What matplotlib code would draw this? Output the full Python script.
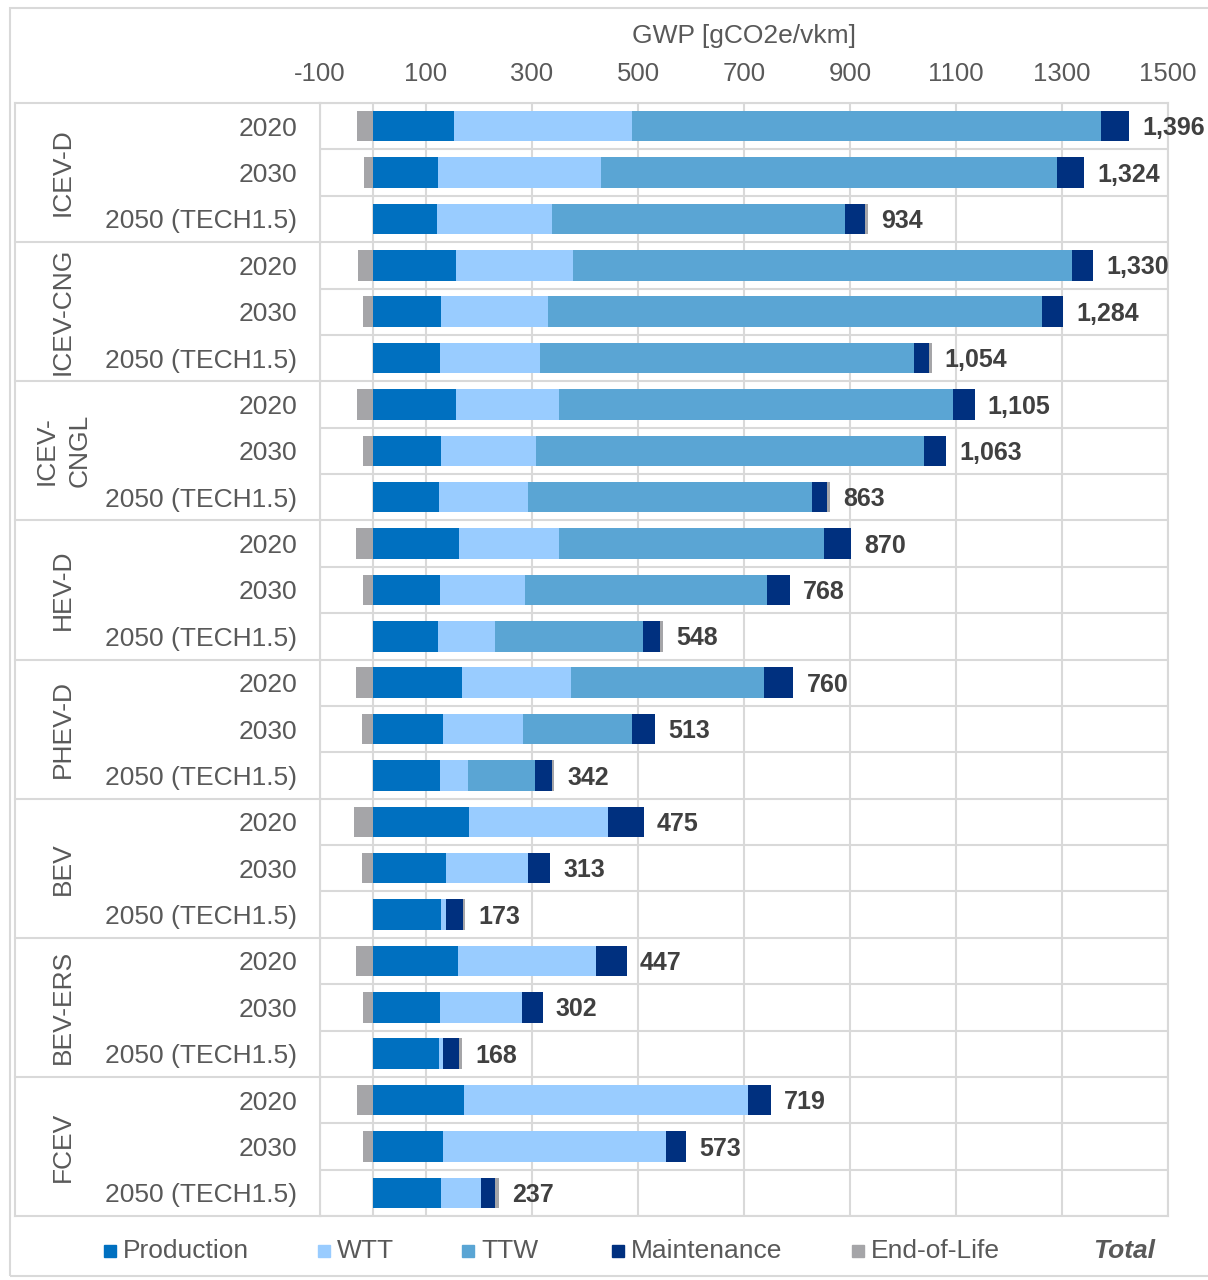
import matplotlib
matplotlib.use('Agg')
import matplotlib.pyplot as plt
import matplotlib.transforms as mtransforms
from matplotlib.patches import Rectangle
from matplotlib.lines import Line2D
import numpy as np

plt.rcParams['font.family'] = ['Liberation Sans', 'DejaVu Sans']
plt.rcParams['axes.unicode_minus'] = False

# data, rows top to bottom: 8 vehicle types x 3 years
groups = ['ICEV-D', 'ICEV-CNG', 'ICEV-\nCNGL', 'HEV-D', 'PHEV-D', 'BEV', 'BEV-ERS', 'FCEV']
years = ['2020', '2030', '2050 (TECH1.5)']

production = [152, 123, 121, 157, 129, 126, 156, 128, 125, 162, 127, 123,
              167, 132, 127, 182, 137, 128, 161, 127, 125, 172, 132, 128]
wtt = [336, 307, 217, 220, 202, 189, 194, 179, 168, 188, 160, 107,
       207, 151, 52, 262, 155, 9, 260, 154, 8, 536, 420, 75]
ttw = [886, 860, 552, 942, 931, 706, 745, 733, 535, 501, 456, 280,
       364, 205, 126, 0, 0, 0, 0, 0, 0, 0, 0, 0]
maintenance = [52, 51, 38, 40, 40, 28, 40, 41, 29, 51, 43, 32,
               55, 45, 33, 67, 42, 32, 58, 39, 29, 42, 39, 28]
end_of_life = [-30, -17, 6, -29, -18, 5, -30, -18, 6, -32, -18, 6,
               -33, -20, 4, -36, -21, 4, -32, -18, 6, -31, -18, 6]
totals = [1396, 1324, 934, 1330, 1284, 1054, 1105, 1063, 863, 870, 768, 548,
          760, 513, 342, 475, 313, 173, 447, 302, 168, 719, 573, 237]

series = [('Production', production, '#0070C0'),
          ('WTT', wtt, '#99CCFF'),
          ('TTW', ttw, '#5AA5D4'),
          ('Maintenance', maintenance, '#00307F'),
          ('End-of-Life', end_of_life, '#A5A5A8')]

W, H = 1208, 1280
fig = plt.figure(figsize=(W / 100, H / 100), dpi=100)
ax = fig.add_axes([320 / W, 1 - 1216 / H, 848 / W, 1113 / H])

txt = '#595959'
grid = '#D9D9D9'
n = len(totals)
y = np.arange(n)

pos = np.zeros(n)
neg = np.zeros(n)
for name, vals, col in series:
    v = np.array(vals, dtype=float)
    left = np.where(v >= 0, pos, neg)
    ax.barh(y, v, left=left, height=0.66, color=col, zorder=3)
    pos = pos + np.where(v >= 0, v, 0)
    neg = neg + np.where(v < 0, v, 0)

for i in range(n):
    ax.annotate('{:,}'.format(totals[i]), (pos[i], y[i]), xytext=(9.5, -1.5),
                textcoords='offset points', ha='left', va='center',
                fontsize=18, fontweight='bold', color='#404040')

ax.set_xlim(-100, 1500)
ax.set_ylim(n - 0.5, -0.5)
ax.set_xticks(np.arange(-100, 1501, 200))
ax.xaxis.tick_top()
ax.tick_params(axis='x', length=0, pad=12, labelsize=18.5, labelcolor=txt)
ax.set_yticks(y)
ax.set_yticklabels(years * len(groups))
ax.tick_params(axis='y', length=0, pad=16.5, labelsize=19, labelcolor=txt)
ax.set_yticks(np.arange(-0.5, n, 1), minor=True)
ax.tick_params(axis='y', which='minor', length=0)
ax.grid(axis='x', color=grid, lw=1.5, zorder=0)
ax.grid(axis='y', which='minor', color=grid, lw=1.5, zorder=0)
ax.axvline(0, color=grid, lw=1.5, zorder=1)
for s in ax.spines.values():
    s.set_color(grid)
    s.set_linewidth(1.5)

# group labels and separators reaching into the label column
tr = mtransforms.blended_transform_factory(fig.transFigure, ax.transData)
for g, name in enumerate(groups):
    ax.text(63 / W, g * 3 + 1, name, transform=tr, rotation=90, ha='center',
            va='center', fontsize=19, color=txt, linespacing=1.45, clip_on=False)
for b in np.arange(-0.5, n, 3):
    ax.add_line(Line2D([15 / W, 320 / W], [b, b], transform=tr, color=grid,
                       lw=1.5, clip_on=False))
fig.add_artist(Line2D([15 / W, 15 / W], [1 - 103 / H, 1 - 1216 / H],
                      color=grid, lw=1.5))

fig.text(744 / W, 1 - 36 / H, 'GWP [gCO2e/vkm]', ha='center', va='center',
         fontsize=19, color=txt)

# legend along the bottom
leg_x = [104, 318, 462, 612, 852]
ly = 1 - 1251 / H
for (name, vals, col), lx in zip(series, leg_x):
    fig.add_artist(Rectangle((lx / W, ly - 6 / H), 12 / W, 12 / H,
                             color=col, transform=fig.transFigure))
    fig.text((lx + 19) / W, ly, name, ha='left', va='center', fontsize=19,
             color=txt)
fig.text(1155 / W, ly, 'Total', ha='right', va='center', fontsize=19,
         fontweight='bold', fontstyle='italic', color=txt)

# chart area border (right side falls outside the image)
fig.add_artist(Rectangle((10 / W, 4 / H), 1210 / W, 1268 / H, fill=False,
                         edgecolor=grid, lw=1.5, transform=fig.transFigure))

fig.savefig('out.png', dpi=100)
